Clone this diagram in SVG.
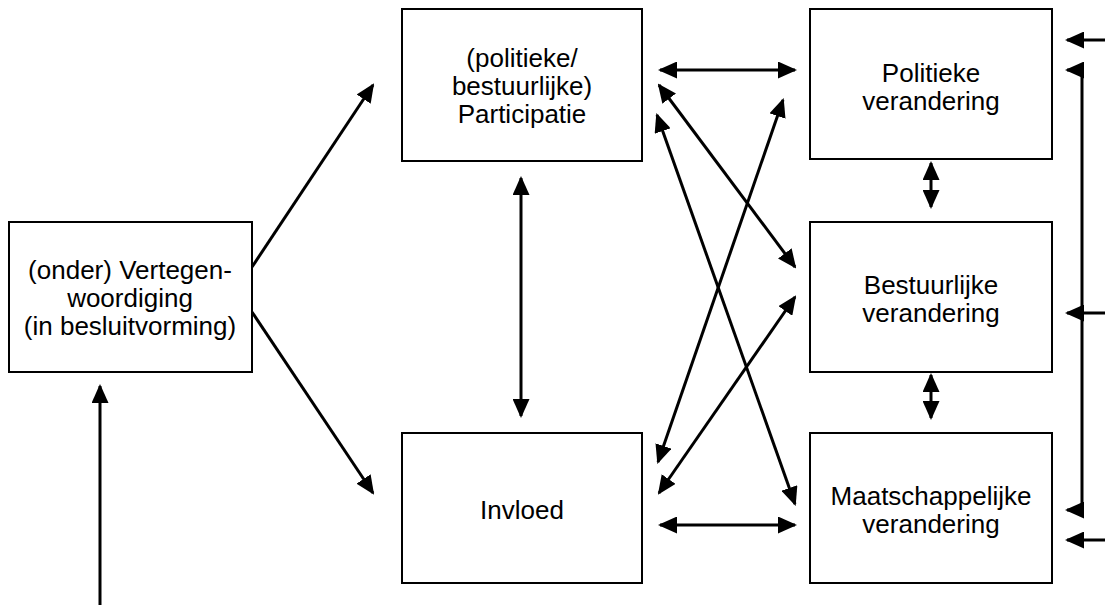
<svg xmlns="http://www.w3.org/2000/svg" width="1105" height="614" viewBox="0 0 1105 614">
<defs>
<style>
.box{fill:#fff;stroke:#000;stroke-width:2}
.t{font-family:"Liberation Sans",Arial,sans-serif;font-size:26px;fill:#000;text-anchor:middle}
.c{fill:none;stroke:#000;stroke-width:3}
.a{marker-end:url(#ah)}
.d{marker-start:url(#ah);marker-end:url(#ah)}
</style>
<marker id="ah" markerUnits="userSpaceOnUse" markerWidth="19" markerHeight="17" refX="17" refY="8.5" orient="auto-start-reverse" viewBox="0 0 19 17">
<path d="M0,0 L19,8.5 L0,17 z" fill="#000"/>
</marker>
</defs>
<rect width="1105" height="614" fill="#fff"/>
<g id="connectors">
<line class="c a" x1="252" y1="267" x2="373" y2="85"/>
<line class="c a" x1="252" y1="312" x2="373" y2="493"/>
<line class="c a" x1="100" y1="605" x2="100" y2="386"/>
<line class="c d" x1="521" y1="178" x2="521" y2="416"/>
<line class="c d" x1="660" y1="70" x2="795" y2="70"/>
<line class="c d" x1="660" y1="525" x2="795" y2="525"/>
<line class="c d" x1="931" y1="163" x2="931" y2="207"/>
<line class="c d" x1="931" y1="375" x2="931" y2="418"/>
<line class="c d" x1="659" y1="85" x2="795" y2="267"/>
<line class="c d" x1="657" y1="115" x2="795" y2="504"/>
<line class="c d" x1="658" y1="462" x2="783" y2="100"/>
<line class="c d" x1="659" y1="493" x2="795" y2="297"/>
<path class="c d" d="M1067,70 H1082 V510 H1067"/>
<line class="c a" x1="1105" y1="40" x2="1067" y2="40"/>
<line class="c a" x1="1105" y1="313" x2="1067" y2="313"/>
<line class="c a" x1="1105" y1="540" x2="1067" y2="540"/>
</g>
<g id="vertegenwoordiging">
<rect class="box" x="9" y="222" width="243" height="150"/>
<text class="t" x="130" y="279">(onder) Vertegen-</text>
<text class="t" x="130" y="307">woordiging</text>
<text class="t" x="130" y="335">(in besluitvorming)</text>
</g>
<g id="participatie">
<rect class="box" x="402" y="9" width="240" height="152"/>
<text class="t" x="522" y="67">(politieke/</text>
<text class="t" x="522" y="95">bestuurlijke)</text>
<text class="t" x="522" y="123">Participatie</text>
</g>
<g id="invloed">
<rect class="box" x="402" y="433" width="240" height="150"/>
<text class="t" x="522" y="519">Invloed</text>
</g>
<g id="politieke">
<rect class="box" x="810" y="9" width="242" height="150"/>
<text class="t" x="931" y="82">Politieke</text>
<text class="t" x="931" y="110">verandering</text>
</g>
<g id="bestuurlijke">
<rect class="box" x="810" y="222" width="242" height="150"/>
<text class="t" x="931" y="294">Bestuurlijke</text>
<text class="t" x="931" y="322">verandering</text>
</g>
<g id="maatschappelijke">
<rect class="box" x="810" y="433" width="242" height="150"/>
<text class="t" x="931" y="505">Maatschappelijke</text>
<text class="t" x="931" y="533">verandering</text>
</g>
</svg>
